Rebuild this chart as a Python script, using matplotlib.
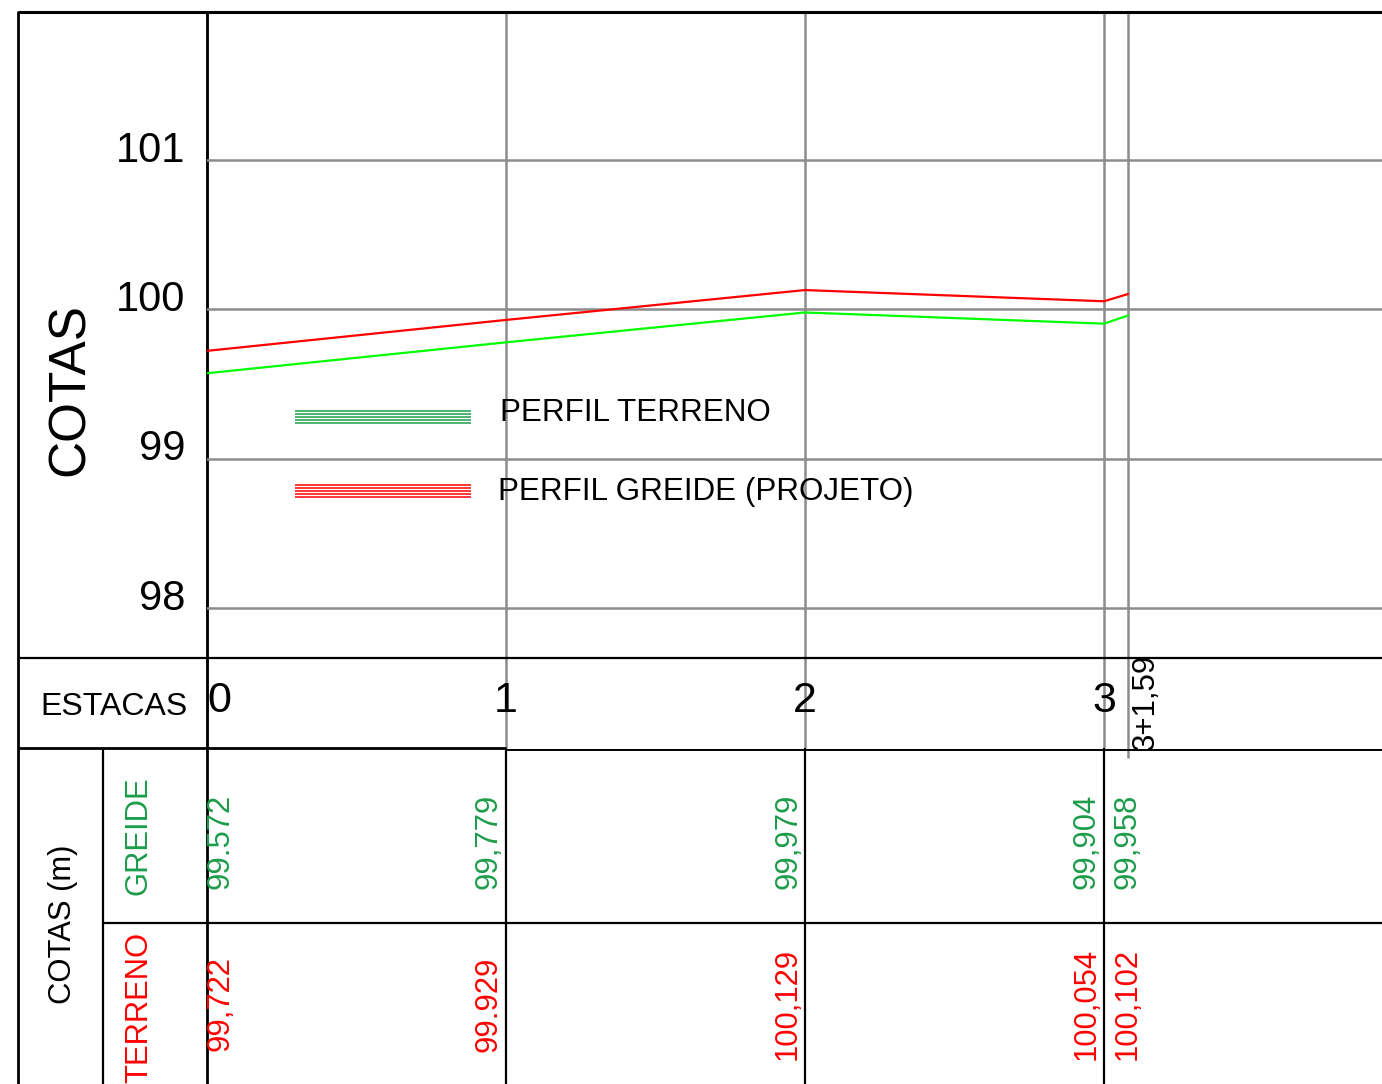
import matplotlib
matplotlib.use("Agg")
import matplotlib.pyplot as plt
from matplotlib.transforms import blended_transform_factory, offset_copy

plt.rcParams['font.family'] = ['Liberation Sans', 'DejaVu Sans']

# estacas (stations of 20 m) and elevations
estacas = [0, 1, 2, 3, 3 + 1.59 / 20]
estaca_labels = ['0', '1', '2', '3', '3+1,59']
greide = [99.572, 99.779, 99.979, 99.904, 99.958]
terreno = [99.722, 99.929, 100.129, 100.054, 100.102]
greide_txt = ['99.572', '99,779', '99,979', '99,904', '99,958']
terreno_txt = ['99,722', '99.929', '100,129', '100,054', '100,102']
cotas_ticks = [98, 99, 100, 101]

W, H = 1382, 1084
fig = plt.figure(figsize=(W / 100, H / 100), dpi=100)

# overlay in pixel coordinates for the table frame
tab = fig.add_axes([0, 0, 1, 1])
tab.set_xlim(0, W)
tab.set_ylim(H, 0)
tab.axis('off')

# profile axes: station 0 at x=207, station 3 at x=1104; 101 at y=160, 98 at y=608
ax = fig.add_axes([207 / W, 1 - 658 / H, (W - 207) / W, (658 - 12) / H])
ax.patch.set_alpha(0)
px_st = (1104 - 207) / 3
px_m = (608 - 160) / 3
ax.set_xlim(0, (W - 207) / px_st)
ax.set_ylim(98 - 50 / px_m, 101 + 148 / px_m)
for s in ax.spines.values():
    s.set_visible(False)
ax.set_xticks([])

grey = '#8c8c8c'
for c in cotas_ticks:
    ax.axhline(c, color=grey, lw=1.8, zorder=1)

ax.set_yticks(cotas_ticks)
ax.set_yticklabels([str(c) for c in cotas_ticks], fontsize=30)
ax.tick_params(axis='y', length=0, pad=15.5)
for lab in ax.get_yticklabels():
    lab.set_transform(offset_copy(lab.get_transform(), fig=fig, x=0, y=14, units='dots'))

ax.plot(estacas, terreno, color='#ff0000', lw=1.6, zorder=3)
ax.plot(estacas, greide, color='#00ff00', lw=1.6, zorder=3)

# station x in data, y in pixels
bt = blended_transform_factory(ax.transData, tab.transData)

# grey station lines through profile and estacas row
tab.vlines(estacas[:4], 12, 748, color=grey, lw=1.8, transform=bt)
tab.vlines(estacas[4], 12, 758, color=grey, lw=1.8, transform=bt)
# black station lines in the elevation table
tab.vlines(estacas[1:4], 748, H, color='black', lw=1.6, transform=bt)

# frame
k = 'black'
tab.hlines(11.5, 18, W, color=k, lw=2.2)
tab.vlines(18.5, 11, H, color=k, lw=2)
tab.vlines(207.5, 11, H, color=k, lw=2)
tab.hlines(658, 18, W, color=k, lw=1.6)
tab.hlines(748, 18, 506, color=k, lw=2)
tab.hlines(749.5, 506, W, color=k, lw=1.4)
tab.vlines(103.5, 748, H, color=k, lw=1.6)
tab.hlines(923, 103, W, color=k, lw=1.6)

# legend
green_txt = '#1c9c4a'
for i in range(5):
    tab.hlines(411 + i * 3, 295, 471, color=green_txt, lw=1.1)
    tab.hlines(485 + i * 3, 295, 471, color='#ff0000', lw=1.1)
tab.text(500, 413, 'PERFIL TERRENO', fontsize=22.6, va='center', ha='left')
tab.text(498, 492, 'PERFIL GREIDE (PROJETO)', fontsize=22.6, va='center', ha='left')

# left column labels
tab.text(70, 389, 'COTAS', fontsize=37, rotation=90, ha='center', va='center')
tab.text(114, 707, 'ESTACAS', fontsize=23, ha='center', va='center')
tab.text(63, 924, 'COTAS (m)', fontsize=22.3, rotation=90, ha='center', va='center')
tab.text(139, 836, 'GREIDE', fontsize=22.3, rotation=90, ha='center', va='center', color=green_txt)
tab.text(139, 1007, 'TERRENO', fontsize=22.3, rotation=90, ha='center', va='center', color='#ff0000')

# station labels
for st, lab in zip(estacas[:4], estaca_labels[:4]):
    tab.text(st, 701, lab, fontsize=31, ha='left' if st == 0 else 'center',
             va='center', transform=bt)
tab.text(estacas[4], 702, estaca_labels[4], fontsize=22.5, rotation=90,
         ha='center', va='center',
         transform=offset_copy(bt, fig=fig, x=18, y=0, units='dots'))

# elevation values
shifts = [13, -17, -17, -17, 0]
for st, g, t, dx in zip(estacas, greide_txt, terreno_txt, shifts):
    tr = offset_copy(bt, fig=fig, x=dx, y=0, units='dots')
    tab.text(st, 841, g, fontsize=22.3, rotation=90, ha='center', va='center',
             color=green_txt, transform=tr)
    tab.text(st, 1004, t, fontsize=22.3, rotation=90, ha='center', va='center',
             color='#ff0000', transform=tr)

fig.savefig('out.png', dpi=100)
